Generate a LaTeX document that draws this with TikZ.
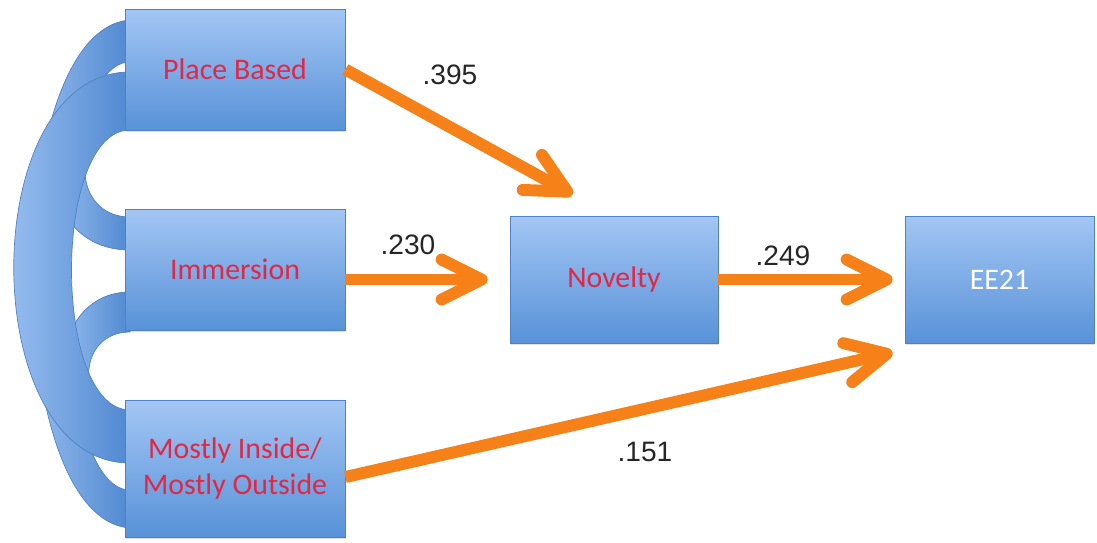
\documentclass[tikz,border=0pt]{standalone}
\usepackage{fontspec}
\setmainfont{Carlito}
\newfontfamily\numfont{Liberation Sans}
\usetikzlibrary{arrows.meta}
\usetikzlibrary{shadows}
\usetikzlibrary{calc}

\definecolor{boxtop}{RGB}{163,198,244}
\definecolor{boxbot}{RGB}{88,146,216}
\definecolor{boxline}{RGB}{80,130,195}
\definecolor{namered}{RGB}{224,40,70}
\definecolor{pathorange}{RGB}{247,129,25}
\definecolor{bandlight}{RGB}{170,204,247}
\definecolor{banddark}{RGB}{80,136,208}

\tikzset{
  box/.style={rectangle, draw=boxline, line width=0.5pt, top color=boxtop, bottom color=boxbot,
    text=namered, font=\fontsize{17}{20}\selectfont, align=center, inner sep=0pt,
    drop shadow={opacity=0.25, shadow xshift=0.5pt, shadow yshift=-1pt}},
  band/.style={draw=boxline, line width=0.4pt, left color=bandlight, right color=banddark},
  effect/.style={draw=pathorange, line width=6.8pt,
    -{Straight Barb[length=0.8cm, width=0.8cm, line cap=round, line join=round]}},
  coef/.style={font=\numfont\fontsize{16}{19}\selectfont, text=black!85}
}

\begin{document}
\begin{tikzpicture}[x=0.02cm, y=-0.02cm]
\useasboundingbox (0,0) rectangle (1097,542);

% correlations between the three causes
\path[band] (130,20) .. controls (0,30) and (0,518) .. (130,528) -- (130,490)
  .. controls (45,490) and (45,62) .. (130,62) -- cycle;
\path[band] (130,90) .. controls (30,100) and (30,250) .. (130,250) -- (130,217)
  .. controls (70,217) and (70,125) .. (130,125) -- cycle;
\path[band] (130,292) .. controls (40,292) and (40,450) .. (130,450) -- (130,415)
  .. controls (75,415) and (75,332) .. (130,332) -- cycle;
\path[band] (130,72) .. controls (-25,72) and (-25,463) .. (130,463) -- (130,410)
  .. controls (52,410) and (52,130) .. (130,130) -- cycle;

% the boxes
\node[box, minimum width=4.4cm, minimum height=2.42cm] (pb) at (235,69.5) {Place Based};
\node[box, minimum width=4.4cm, minimum height=2.42cm] (imm) at (235,269.5) {Immersion};
\node[box, minimum width=4.4cm, minimum height=2.74cm] (mi) at (235,468.5) {Mostly Inside/\\Mostly Outside};
\node[box, minimum width=4.16cm, minimum height=2.54cm] (nov) at (614,279.5) {Novelty};
\node[box, text=white, minimum width=3.78cm, minimum height=2.54cm] (ee) at (999.5,279.5) {EE21};

% paths
\draw[effect] (pb.east) -- ($(nov.north west)+(63,-21)$);
\draw[effect] (imm.east |- nov.west) -- ($(nov.west)+(-22,0)$);
\draw[effect] (nov.east) -- ($(ee.west)+(-12,0)$);
\draw[effect] ($(mi.east)+(0,8.5)$) -- ($(ee.south west)+(-12,9)$);

\node[coef] (c395) at (450,75) {.395};
\node[coef] (c230) at (408,245) {.230};
\node[coef] (c249) at (783,256) {.249};
\node[coef] (c151) at (645,452) {.151};

\end{tikzpicture}
\end{document}
